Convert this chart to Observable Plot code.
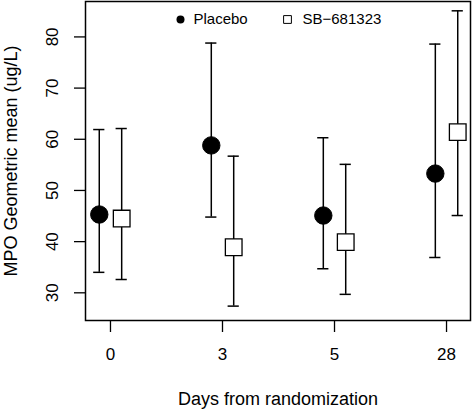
<!DOCTYPE html>
<html>
<head>
<meta charset="utf-8">
<script src="https://cdn.jsdelivr.net/npm/d3@7"></script>
<script src="https://cdn.jsdelivr.net/npm/@observablehq/plot@0.6"></script>
<style>
  html, body { margin: 0; padding: 0; background: #fff; }
  #chart svg { display: block; }
</style>
</head>
<body>
<div id="chart"></div>
<script>
// Categories (x axis)
const days = ["0", "3", "5", "28"];
const groups = ["Placebo", "SB\u2212681323"];
// Geometric means and 95% CI (ug/L)
const placeboMean  = [45.3, 58.8, 45.1, 53.3];
const placeboLower = [34.0, 44.8, 34.7, 36.9];
const placeboUpper = [61.9, 78.8, 60.3, 78.6];
const sbMean  = [44.5, 38.9, 39.9, 61.4];
const sbLower = [32.6, 27.4, 29.7, 45.1];
const sbUpper = [62.1, 56.7, 55.1, 85.1];
const yTicks = [30, 40, 50, 60, 70, 80];

const offset = 0.1;   // dodge between groups (x data units)
const cap = 0.05;     // half cap width (x data units)

const rows = [];
days.forEach((d, i) => {
  rows.push({group: groups[0], pos: i + 1 - offset, mean: placeboMean[i], lo: placeboLower[i], hi: placeboUpper[i]});
  rows.push({group: groups[1], pos: i + 1 + offset, mean: sbMean[i], lo: sbLower[i], hi: sbUpper[i]});
});
const placeboRows = rows.filter(r => r.group === groups[0]);
const sbRows = rows.filter(r => r.group === groups[1]);
const font = "Liberation Sans, Arial, Helvetica, sans-serif";

const chart = Plot.plot({
  width: 472,
  height: 409,
  marginLeft: 85,
  marginRight: 2,
  marginTop: 1,
  marginBottom: 89,
  style: {fontFamily: font, background: "#fff", color: "#000"},
  x: {domain: [0.777, 4.214], axis: null},
  y: {domain: [24.59, 86.92], axis: null},
  marks: [
    // y axis ticks
    Plot.axisY({ticks: yTicks, tickSize: 11, tickFormat: () => "", label: null, stroke: "#000", strokeWidth: 1.3}),
    Plot.text(yTicks, {y: d => d, text: d => String(d), frameAnchor: "left", dx: -32.5, rotate: -90, textAnchor: "middle", lineAnchor: "middle", fontSize: 17, fill: "#000"}),
    // x axis ticks
    Plot.axisX({ticks: [1, 2, 3, 4], tickSize: 12, tickFormat: () => "", label: null, stroke: "#000", strokeWidth: 1.3}),
    Plot.text(days, {x: (d, i) => i + 1, text: d => d, frameAnchor: "bottom", dy: 34.5, lineAnchor: "middle", textAnchor: "middle", fontSize: 17, fill: "#000"}),
    // axis titles
    Plot.text(["Days from randomization"], {frameAnchor: "bottom", dy: 78.5, textAnchor: "middle", lineAnchor: "middle", fontSize: 18, fill: "#000"}),
    Plot.text(["MPO Geometric mean (ug/L)"], {frameAnchor: "left", dx: -74, rotate: -90, textAnchor: "middle", lineAnchor: "middle", fontSize: 18, fill: "#000"}),
    // error bars
    Plot.ruleX(rows, {x: "pos", y1: "lo", y2: "hi", stroke: "#000", strokeWidth: 1.5}),
    Plot.ruleY(rows, {y: "lo", x1: d => d.pos - cap, x2: d => d.pos + cap, stroke: "#000", strokeWidth: 1.5}),
    Plot.ruleY(rows, {y: "hi", x1: d => d.pos - cap, x2: d => d.pos + cap, stroke: "#000", strokeWidth: 1.5}),
    // points
    Plot.dot(placeboRows, {x: "pos", y: "mean", r: 8.7, fill: "#000", stroke: "#000", strokeWidth: 1}),
    Plot.dot(sbRows, {x: "pos", y: "mean", symbol: "square", r: 9.4, fill: "#fff", stroke: "#000", strokeWidth: 1.3}),
    // legend
    Plot.dot([groups[0]], {frameAnchor: "top-left", dx: 95, dy: 18, r: 4, fill: "#000"}),
    Plot.text([groups[0]], {frameAnchor: "top-left", dx: 108, dy: 18, text: d => d, textAnchor: "start", lineAnchor: "middle", fontSize: 15, fill: "#000"}),
    Plot.dot([groups[1]], {frameAnchor: "top-left", dx: 202, dy: 18, symbol: "square", r: 4.4, fill: "#fff", stroke: "#000", strokeWidth: 1}),
    Plot.text([groups[1]], {frameAnchor: "top-left", dx: 217, dy: 18, text: d => d, textAnchor: "start", lineAnchor: "middle", fontSize: 15, fill: "#000"}),
    Plot.frame({stroke: "#000", strokeWidth: 1.5})
  ]
});
document.getElementById("chart").appendChild(chart);
</script>
</body>
</html>
